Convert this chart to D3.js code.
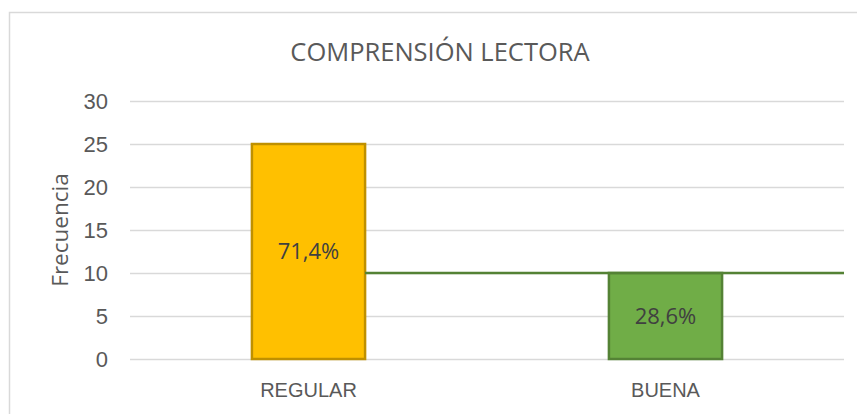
<!DOCTYPE html>
<html>
<head>
<meta charset="utf-8">
<script src="https://cdn.jsdelivr.net/npm/d3@7"></script>
<style>
  body { margin: 0; background: #fff; }
  svg { display: block; font-family: 'Open Sans', sans-serif; }
  .axis .domain { display: none; }
</style>
</head>
<body>
<div id="chart"></div>
<script>
const categories = ['REGULAR', 'BUENA']
const frecuencia = [25, 10]
const porcentajes = ['71,4%', '28,6%']
const yTickValues = [0, 5, 10, 15, 20, 25, 30]
const lineValue = 10

const colors = {
  REGULAR: { fill: '#FFC000', stroke: '#BF9000' },
  BUENA: { fill: '#70AD47', stroke: '#548235' }
}

const width = 857
const height = 414
const margin = { top: 101, right: 13, bottom: 55, left: 130 }
const chartWidth = width - margin.left - margin.right
const chartHeight = height - margin.top - margin.bottom

const svg = d3.select('#chart')
  .append('svg')
  .attr('width', width)
  .attr('height', height)

// chart frame
svg.append('rect')
  .attr('x', 9.5)
  .attr('y', 12.5)
  .attr('width', 900)
  .attr('height', 420)
  .attr('fill', '#fff')
  .attr('stroke', '#d9d9d9')
  .attr('stroke-width', 1.5)

svg.append('text')
  .attr('x', 440)
  .attr('y', 61)
  .attr('text-anchor', 'middle')
  .attr('fill', '#595959')
  .style('font-size', '25.5px')
  .text('COMPRENSIÓN LECTORA')

const xScale = d3.scaleBand()
  .domain(categories)
  .range([0, chartWidth])
  .paddingInner(0.683)
  .paddingOuter(0.3415)

const yScale = d3.scaleLinear()
  .domain([0, 30])
  .range([chartHeight, 0])

const g = svg.append('g')
  .attr('transform', `translate(${margin.left},${margin.top})`)

const yAxis = d3.axisLeft(yScale)
  .tickValues(yTickValues)
  .tickSize(-chartWidth)
  .tickPadding(22)

g.append('g')
  .attr('class', 'axis y')
  .call(yAxis)
  .call(s => s.selectAll('.tick line').attr('stroke', '#d9d9d9').attr('stroke-width', 1.5))
  .call(s => s.selectAll('.tick text').attr('fill', '#595959').style('font-size', '22px'))

const xAxis = d3.axisBottom(xScale)
  .tickSize(0)
  .tickPadding(24)

g.append('g')
  .attr('class', 'axis x')
  .attr('transform', `translate(0,${chartHeight})`)
  .call(xAxis)
  .call(s => s.selectAll('.tick text').attr('fill', '#595959').style('font-size', '20px'))

g.append('text')
  .attr('transform', `translate(${60 - margin.left},${chartHeight / 2}) rotate(-90)`)
  .attr('text-anchor', 'middle')
  .attr('dy', '0.35em')
  .attr('fill', '#595959')
  .style('font-size', '22.5px')
  .text('Frecuencia')

const data = categories.map((c, i) => ({ cat: c, value: frecuencia[i], label: porcentajes[i] }))

g.selectAll('.bar')
  .data(data)
  .enter()
  .append('rect')
  .attr('class', 'bar')
  .attr('x', d => xScale(d.cat))
  .attr('y', d => yScale(d.value))
  .attr('width', xScale.bandwidth())
  .attr('height', d => chartHeight - yScale(d.value))
  .attr('fill', d => colors[d.cat].fill)
  .attr('stroke', d => colors[d.cat].stroke)
  .attr('stroke-width', 2.5)

// horizontal line at 10
g.append('line')
  .attr('x1', xScale(categories[0]) + xScale.bandwidth())
  .attr('x2', chartWidth)
  .attr('y1', yScale(lineValue))
  .attr('y2', yScale(lineValue))
  .attr('stroke', '#548235')
  .attr('stroke-width', 2.7)

g.selectAll('.label')
  .data(data)
  .enter()
  .append('text')
  .attr('class', 'label')
  .attr('x', d => xScale(d.cat) + xScale.bandwidth() / 2)
  .attr('y', d => (yScale(d.value) + chartHeight) / 2)
  .attr('dy', '0.35em')
  .attr('text-anchor', 'middle')
  .attr('fill', '#404040')
  .style('font-size', '22px')
  .text(d => d.label)
</script>
</body>
</html>
